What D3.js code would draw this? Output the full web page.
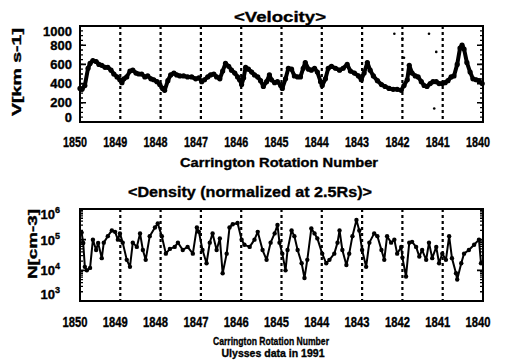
<!DOCTYPE html>
<html><head><meta charset="utf-8">
<script src="https://cdn.jsdelivr.net/npm/d3@7"></script>
<style>
body{margin:0;background:#fff}
text{font-family:"Liberation Sans",Arial,Helvetica,sans-serif;font-weight:bold;fill:#000;stroke:#000;stroke-width:0.35px}
</style>
</head><body>
<svg id="c" width="507" height="360"></svg>
<script>
// ---- data ----
const rotations = [1850,1849,1848,1847,1846,1845,1844,1843,1842,1841,1840];
const rotLabels = ["1850","1849","1848","1847","1846","1845","1844","1843","1842","1841","1840"];
const velTicks = [0,200,400,600,800,1000];
const denTicks = [1e3,1e4,1e5,1e6];
const denExp = ["3","4","5","6"];

const velRot = [1850.00,1849.95,1849.88,1849.80,1849.75,1849.68,1849.60,1849.53,1849.46,1849.38,1849.31,1849.23,1849.16,1849.08,1849.01,
1848.96,1848.91,1848.84,1848.76,1848.69,1848.61,1848.54,1848.47,1848.39,1848.32,1848.24,1848.17,1848.09,1848.02,
1847.95,1847.90,1847.82,1847.75,1847.67,1847.60,1847.52,1847.43,1847.33,1847.23,1847.13,1847.05,
1846.98,1846.91,1846.83,1846.76,1846.68,1846.61,1846.53,1846.46,1846.39,1846.31,1846.24,1846.16,1846.09,1846.04,
1845.99,1845.94,1845.89,1845.82,1845.74,1845.67,1845.59,1845.52,1845.45,1845.37,1845.30,1845.25,1845.17,1845.10,1845.02,
1844.98,1844.90,1844.83,1844.75,1844.68,1844.60,1844.53,1844.46,1844.41,1844.33,1844.26,1844.18,1844.11,1844.03,
1843.99,1843.91,1843.84,1843.76,1843.66,1843.56,1843.47,1843.37,1843.29,1843.19,1843.09,1843.02,
1842.95,1842.87,1842.80,1842.72,1842.62,1842.52,1842.43,1842.33,1842.23,1842.13,1842.03,
1841.96,1841.88,1841.83,1841.76,1841.68,1841.61,1841.53,1841.46,1841.39,1841.31,1841.24,1841.16,1841.09,1841.01,
1840.94,1840.87,1840.79,1840.72,1840.64,1840.57,1840.52,1840.47,1840.40,1840.32,1840.25,1840.17,1840.10,1840.02];
const velVal = [350,340,380,560,610,640,630,600,590,570,570,540,500,470,440,
410,450,470,530,540,510,500,500,470,480,450,440,420,390,
350,330,430,490,510,490,480,480,470,470,450,460,
420,440,470,490,500,470,450,530,610,580,540,510,470,440,
390,460,570,550,520,490,470,430,370,420,490,440,410,420,380,
350,450,560,550,480,470,470,560,620,550,540,560,520,420,
380,450,560,580,560,540,560,600,530,510,480,440,
510,620,540,480,430,390,370,350,340,340,330,
380,440,590,510,480,470,420,380,370,400,420,420,400,400,
410,430,470,480,600,770,800,760,620,520,450,440,430,400];

const velOutRot = [1842.20,1842.00,1841.96,1841.34,1841.16,1841.21];
const velOutVal = [920,870,670,920,730,140];

const denRot = [1849.96,1849.92,1849.88,1849.83,1849.75,1849.68,1849.60,1849.55,1849.46,1849.41,1849.31,1849.21,1849.13,1849.06,1849.01,
1848.94,1848.84,1848.76,1848.69,1848.59,1848.51,1848.44,1848.37,1848.27,1848.14,1848.07,
1847.97,1847.87,1847.77,1847.65,1847.57,1847.45,1847.33,1847.20,1847.10,1847.05,
1846.96,1846.86,1846.78,1846.71,1846.61,1846.53,1846.46,1846.36,1846.29,1846.21,1846.09,
1845.99,1845.92,1845.79,1845.67,1845.59,1845.47,1845.37,1845.27,1845.17,1845.10,1845.05,
1844.98,1844.90,1844.85,1844.75,1844.68,1844.60,1844.50,1844.43,1844.36,1844.26,1844.18,1844.11,
1843.99,1843.89,1843.81,1843.69,1843.61,1843.56,1843.49,1843.39,1843.32,1843.24,1843.14,1843.07,1843.00,
1842.90,1842.82,1842.70,1842.62,1842.52,1842.45,1842.38,1842.28,1842.20,1842.13,1842.03,1842.00,
1841.91,1841.83,1841.76,1841.66,1841.58,1841.51,1841.41,1841.34,1841.26,1841.16,1841.09,1841.01,
1840.92,1840.84,1840.77,1840.67,1840.64,1840.54,1840.47,1840.35,1840.22,1840.10,1840.05];
const denVal = [1.7e5,7.8e4,1.3e4,1.0e4,1.2e4,1.0e5,4.6e4,7.8e4,2.5e4,8.0e4,1.3e5,2.0e5,1.8e5,1.0e5,1.6e5,
8.0e4,2.2e4,1.3e4,8.0e4,5.8e4,1.6e5,4.6e4,2.2e4,1.3e5,2.5e5,3.4e5,
1.3e5,3.5e4,5.0e4,5.8e4,8.0e4,4.6e4,5.8e4,3.5e4,2.5e5,1.8e5,
4.6e4,1.7e4,8.0e4,1.6e5,4.6e4,1.1e5,8.0e3,3.5e4,2.5e5,3.2e5,3.5e5,
1.0e5,6.8e4,5.8e4,1.0e5,1.8e5,4.6e4,2.2e4,8.0e4,1.6e5,3.0e5,8.0e4,
3.5e4,1.0e4,4.6e4,2.0e5,1.3e5,4.6e4,1.7e4,5.6e3,2.2e4,2.3e5,1.6e5,1.1e5,
3.5e4,1.7e4,2.2e4,3.5e4,8.0e4,2.0e5,4.6e4,1.5e4,3.5e4,1.3e5,4.4e5,2.0e5,4.6e4,
1.3e4,8.0e4,1.6e5,1.3e5,4.6e4,2.2e4,1.3e5,8.0e4,1.0e5,3.5e4,5.8e4,2.6e4,
6.3e3,8.0e4,8.5e4,5.8e4,2.8e4,4.6e4,2.2e4,8.0e4,2.5e4,5.8e4,1.7e4,3.5e4,
2.2e4,1.3e5,2.5e4,8.0e3,5.0e3,1.7e4,3.5e4,4.6e4,6.8e4,1.0e5,1.7e4];

// ---- drawing ----
const svg = d3.select("#c");
svg.append("rect").attr("width",507).attr("height",360).attr("fill","#fff");

const x = d3.scaleLinear().domain([1850,1840]).range([80,483]);
const yV = d3.scaleLinear().domain([0,1000]).range([122,26]);
const yN = d3.scaleLog().domain([1e3,1e6]).range([301,209]);

function frame(y, majors, minors, labelY, labW) {
  const [y0,y1] = y.range();
  const g = svg.append("g");
  g.selectAll("line.d").data(rotations.slice(1,-1)).join("line")
    .attr("x1",d=>x(d)).attr("x2",d=>x(d)).attr("y1",y1).attr("y2",y0)
    .attr("stroke","#000").attr("stroke-width",2.2).attr("stroke-dasharray","3,3");
  const L = x.range()[0], R = x.range()[1];
  g.selectAll("path.mi").data(minors).join("path")
    .attr("d",d=>`M${L},${y(d)}h3M${R},${y(d)}h-3`).attr("stroke","#000").attr("stroke-width",1.3);
  g.selectAll("path.ma").data(majors).join("path")
    .attr("d",d=>`M${L},${y(d)}h6M${R},${y(d)}h-6`).attr("stroke","#000").attr("stroke-width",1.6);
  g.append("rect").attr("x",L).attr("y",y1).attr("width",R-L).attr("height",y0-y1)
    .attr("fill","none").attr("stroke","#000").attr("stroke-width",2);
  g.selectAll("text.xl").data(rotations).join("text")
    .attr("x",d=>x(d)-5).attr("y",labelY).attr("text-anchor","middle")
    .attr("font-size",15).attr("textLength",labW).attr("lengthAdjust","spacingAndGlyphs")
    .text((d,i)=>rotLabels[i]);
  return g;
}

// Top panel
frame(yV, velTicks, d3.range(0,1001,50), 147, 24);
svg.selectAll("text.yv").data(velTicks).join("text")
  .attr("x",72).attr("y",d=>Math.max(31,Math.min(117,yV(d)))+4.5).attr("text-anchor","end")
  .attr("font-size",13).text(d=>d);
const vData = d3.zip(velRot, velVal);
svg.append("path").datum(vData)
  .attr("d", d3.line().x(d=>x(d[0])).y(d=>yV(d[1])))
  .attr("fill","none").attr("stroke","#000").attr("stroke-width",4).attr("stroke-linejoin","round");
svg.selectAll("circle.v").data(vData).join("circle")
  .attr("cx",d=>x(d[0])).attr("cy",d=>yV(d[1])).attr("r",2.6).attr("fill","#000");
svg.selectAll("circle.vo").data(d3.zip(velOutRot, velOutVal)).join("circle")
  .attr("cx",d=>x(d[0])).attr("cy",d=>yV(d[1])).attr("r",1.3).attr("fill","#000");
svg.append("text").attr("x",280).attr("y",22).attr("text-anchor","middle").attr("font-size",15)
  .attr("textLength",92).attr("lengthAdjust","spacingAndGlyphs").text("<Velocity>");
svg.append("text").attr("x",279).attr("y",167).attr("text-anchor","middle").attr("font-size",12.5)
  .attr("textLength",198).attr("lengthAdjust","spacingAndGlyphs").text("Carrington Rotation Number");
svg.append("text").attr("transform","translate(21,72) rotate(-90)").attr("text-anchor","middle")
  .attr("font-size",12).attr("textLength",88).attr("lengthAdjust","spacingAndGlyphs").text("V[km s-1]");

// Bottom panel
const denMinor = [];
[1e3,1e4,1e5].forEach(d=>{for(let k=2;k<10;k++) denMinor.push(d*k);});
frame(yN, denTicks, denMinor, 327, 25);
const dl = svg.selectAll("text.yn").data(denTicks).join("text")
  .attr("x",60).attr("y",d=>Math.max(214,Math.min(294,yN(d)))+5).attr("text-anchor","end")
  .attr("font-size",13);
dl.append("tspan").text("10");
dl.append("tspan").attr("dy",-6).attr("font-size",9).text((d,i)=>denExp[i]);
const nData = d3.zip(denRot, denVal);
svg.append("path").datum(nData)
  .attr("d", d3.line().x(d=>x(d[0])).y(d=>yN(d[1])))
  .attr("fill","none").attr("stroke","#000").attr("stroke-width",2).attr("stroke-linejoin","round");
svg.selectAll("circle.n").data(nData).join("circle")
  .attr("cx",d=>x(d[0])).attr("cy",d=>yN(d[1])).attr("r",2.2).attr("fill","#000");
svg.append("text").attr("x",250).attr("y",197).attr("text-anchor","middle").attr("font-size",15)
  .attr("textLength",244).attr("lengthAdjust","spacingAndGlyphs").text("<Density (normalized at 2.5Rs)>");
svg.append("text").attr("x",271).attr("y",345).attr("text-anchor","middle").attr("font-size",11.5)
  .attr("textLength",116).attr("lengthAdjust","spacingAndGlyphs").text("Carrington Rotation Number");
svg.append("text").attr("x",273).attr("y",357).attr("text-anchor","middle").attr("font-size",11)
  .attr("textLength",103).attr("lengthAdjust","spacingAndGlyphs").text("Ulysses data in 1991");
svg.append("text").attr("transform","translate(37,244) rotate(-90)").attr("text-anchor","middle")
  .attr("font-size",12).attr("textLength",70).attr("lengthAdjust","spacingAndGlyphs").text("N[cm-3]");
</script>
</body></html>
